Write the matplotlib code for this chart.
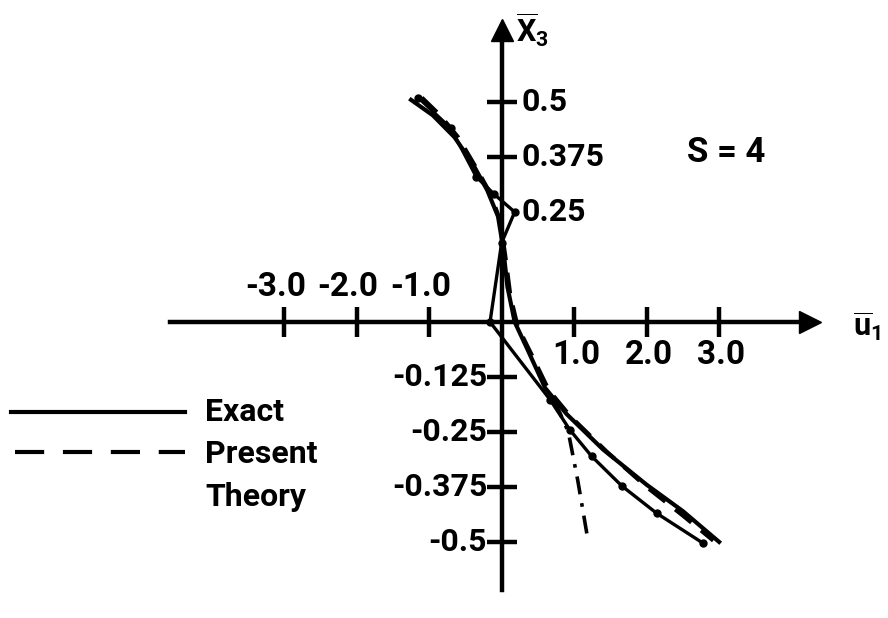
import numpy as np
import matplotlib
matplotlib.use("Agg")
from matplotlib import pyplot as plt

# exact solution
exact_u = [-1.25, -0.95, -0.65, -0.4, -0.2, -0.05, 0.02, 0.08, 0.18, 0.35, 0.6, 0.9, 1.4, 2.0, 2.5, 3.0]
exact_x = [0.505, 0.47, 0.42, 0.36, 0.30, 0.24, 0.17, 0.08, 0.0, -0.06, -0.15, -0.21, -0.29, -0.37, -0.43, -0.50]

# present theory
theory_u = [-1.1, -0.85, -0.6, -0.35, -0.15, -0.02, 0.05, 0.12, 0.22, 0.4, 0.65, 0.95, 1.45, 2.0, 2.5, 2.92]
theory_x = [0.51, 0.47, 0.42, 0.35, 0.29, 0.23, 0.15, 0.06, -0.01, -0.07, -0.155, -0.215, -0.295, -0.375, -0.44, -0.497]

# piecewise solution with nodes
fe_u = [-1.15, -0.7, -0.35, -0.1, 0.18, 0.0, -0.16, 0.67, 0.94, 1.24, 1.66, 2.14, 2.78]
fe_x = [0.51, 0.44, 0.33, 0.29, 0.25, 0.18, 0.0, -0.177, -0.245, -0.305, -0.373, -0.435, -0.503]

# dash-dot branch
dd_u = [0.72, 0.8, 0.92, 1.05, 1.19]
dd_x = [-0.18, -0.205, -0.25, -0.36, -0.495]

xticks_neg = [-3.0, -2.0, -1.0]
xticks_pos = [1.0, 2.0, 3.0]
yticks_pos = [0.5, 0.375]
ylabels_pos = [0.5, 0.375, 0.25]
yticks_neg = [-0.125, -0.25, -0.375, -0.5]

plt.rcParams['font.family'] = ['Roboto', 'DejaVu Sans']
plt.rcParams['font.weight'] = 'bold'
plt.rcParams['mathtext.fontset'] = 'custom'
plt.rcParams['mathtext.rm'] = 'Roboto'
plt.rcParams['mathtext.it'] = 'Roboto'
plt.rcParams['mathtext.bf'] = 'Roboto:bold'


def main():
    fig = plt.figure(figsize=(8.88, 6.18), dpi=100)
    ax = fig.add_axes([0, 0, 1, 1])
    ax.set_xlim(-6.92, 5.33)
    ax.set_ylim(-0.673, 0.732)

    for s in ['top', 'right']:
        ax.spines[s].set_visible(False)
    ax.spines['bottom'].set_position(('data', 0))
    ax.spines['left'].set_position(('data', 0))
    ax.spines['bottom'].set_bounds(-4.58, 4.25)
    ax.spines['left'].set_bounds(-0.61, 0.664)
    ax.spines['bottom'].set_linewidth(3.2)
    ax.spines['left'].set_linewidth(3.2)

    ax.set_xticks(xticks_neg + xticks_pos)
    ax.set_yticks(yticks_pos + yticks_neg)
    ax.set_xticklabels([])
    ax.set_yticklabels([])
    ax.tick_params(direction='inout', length=21, width=3.2)

    # arrow heads
    ax.plot(4.25, 0, marker='>', ms=16, color='k', clip_on=False)
    ax.plot(0, 0.664, marker='^', ms=16, color='k', clip_on=False)

    # curves
    ax.plot(exact_u, exact_x, '-', color='k', lw=3)
    ax.plot(theory_u, theory_x, color='k', lw=3, dashes=(5, 3))
    ax.plot(fe_u, fe_x, '-', color='k', lw=2.4, marker='o', ms=5)
    ax.plot(dd_u, dd_x, color='k', lw=2.6, dashes=(5, 2.5, 1, 2.5))

    # tick labels
    for v in xticks_neg:
        ax.text(v - 0.12, 0.08, f'{v:.1f}', ha='center', va='center', fontsize=24)
    for v in xticks_pos:
        ax.text(v + 0.03, -0.075, f'{v:.1f}', ha='center', va='center', fontsize=24)
    for v in ylabels_pos:
        ax.text(0.28, v, f'{v:g}', ha='left', va='center', fontsize=23)
    for v in yticks_neg:
        ax.text(-0.2, v, f'{v:g}', ha='right', va='center', fontsize=23)

    ax.text(0.2, 0.665, r'$\overline{\mathbf{X}}_\mathbf{3}$', ha='left', va='center', fontsize=22)
    ax.text(4.85, -0.01, r'$\overline{\mathbf{u}}_\mathbf{1}$', ha='left', va='center', fontsize=22)
    ax.text(3.1, 0.386, 'S = 4', ha='center', va='center', fontsize=25)

    # legend
    ax.plot([0.012, 0.208], [0.333, 0.333], transform=ax.transAxes, color='k', lw=3)
    ax.plot([0.017, 0.208], [0.269, 0.269], transform=ax.transAxes, color='k', lw=3, dashes=(7, 4.5))
    ax.text(0.231, 0.333, 'Exact', transform=ax.transAxes, ha='left', va='center', fontsize=23)
    ax.text(0.231, 0.265, 'Present', transform=ax.transAxes, ha='left', va='center', fontsize=23)
    ax.text(0.231, 0.195, 'Theory', transform=ax.transAxes, ha='left', va='center', fontsize=23)

    fig.savefig('out.png', dpi=100)


if __name__ == '__main__':
    main()
